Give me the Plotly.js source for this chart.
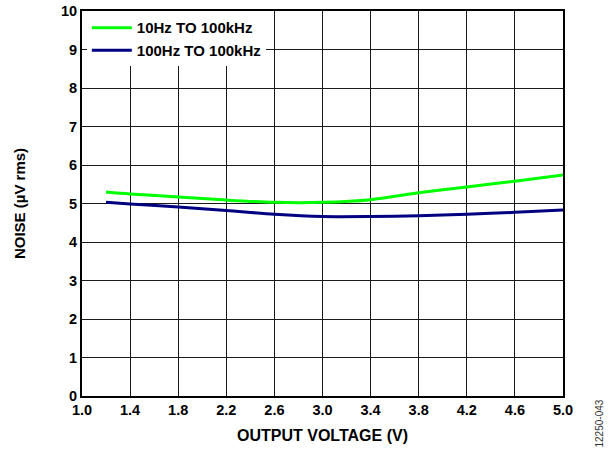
<!DOCTYPE html>
<html>
<head>
<meta charset="utf-8">
<script src="https://cdn.plot.ly/plotly-3.0.1.min.js"></script>
<style>body{margin:0;padding:0;background:#fff}#chart{width:616px;height:452px}</style>
</head>
<body>
<div id="chart"></div>
<script>
const voltage = [1.2, 1.4, 1.8, 2.2, 2.6, 3.0, 3.4, 3.8, 4.2, 4.6, 5.0];
const noise10Hz = [5.30, 5.25, 5.17, 5.09, 5.03, 5.03, 5.10, 5.28, 5.43, 5.58, 5.74];
const noise100Hz = [5.03, 4.99, 4.91, 4.82, 4.72, 4.66, 4.66, 4.68, 4.72, 4.77, 4.83];
const seriesNames = ["10Hz TO 100kHz", "100Hz TO 100kHz"];
const xTickVals = [1.0, 1.4, 1.8, 2.2, 2.6, 3.0, 3.4, 3.8, 4.2, 4.6, 5.0];
const xTickText = ["1.0", "1.4", "1.8", "2.2", "2.6", "3.0", "3.4", "3.8", "4.2", "4.6", "5.0"];
const yTickVals = [0, 1, 2, 3, 4, 5, 6, 7, 8, 9, 10];

const font = "Liberation Sans, Arial, sans-serif";

const traces = [
  {x: voltage, y: noise10Hz, name: seriesNames[0], type: "scatter", mode: "lines",
   line: {color: "#00ff00", width: 3, shape: "spline", smoothing: 0.8}},
  {x: voltage, y: noise100Hz, name: seriesNames[1], type: "scatter", mode: "lines",
   line: {color: "#000080", width: 3, shape: "spline", smoothing: 0.8}}
];

const layout = {
  width: 616, height: 452,
  margin: {l: 82, r: 53, t: 11, b: 56},
  paper_bgcolor: "#fff", plot_bgcolor: "#fff",
  font: {family: font, color: "#000", size: 15, weight: "bold"},
  showlegend: true,
  legend: {x: 0.01, y: 0.999, xanchor: "left", yanchor: "top", bgcolor: "#fff",
           borderwidth: 0, font: {family: font, size: 15, weight: "bold", color: "#000"},
           tracegroupgap: 0, itemwidth: 40},
  xaxis: {range: [1.0, 5.0], tickvals: xTickVals, ticktext: xTickText,
          showgrid: true, gridcolor: "#1a1a1a", gridwidth: 1,
          showline: true, linecolor: "#000", linewidth: 2, mirror: true,
          ticks: "", zeroline: false,
          tickfont: {family: font, size: 14.5, weight: "bold"},
          title: {text: "OUTPUT VOLTAGE (V)", font: {family: font, size: 16, weight: "bold"}, standoff: 12}},
  yaxis: {range: [0, 10], tickvals: yTickVals,
          showgrid: true, gridcolor: "#1a1a1a", gridwidth: 1,
          showline: true, linecolor: "#000", linewidth: 2, mirror: true,
          ticks: "", zeroline: false,
          tickfont: {family: font, size: 14.5, weight: "bold"},
          title: {text: "NOISE (µV rms)", font: {family: font, size: 15, weight: "bold"}, standoff: 32}},
  annotations: [
    {text: "12250-043", xref: "paper", yref: "paper", x: 1, y: 0, xanchor: "left", yanchor: "top",
     xshift: 28, yshift: -2, textangle: -90, showarrow: false,
     font: {family: font, size: 10, color: "#333", weight: "normal"}}
  ]
};

Plotly.newPlot("chart", traces, layout, {displayModeBar: false, staticPlot: true});
</script>
</body>
</html>
